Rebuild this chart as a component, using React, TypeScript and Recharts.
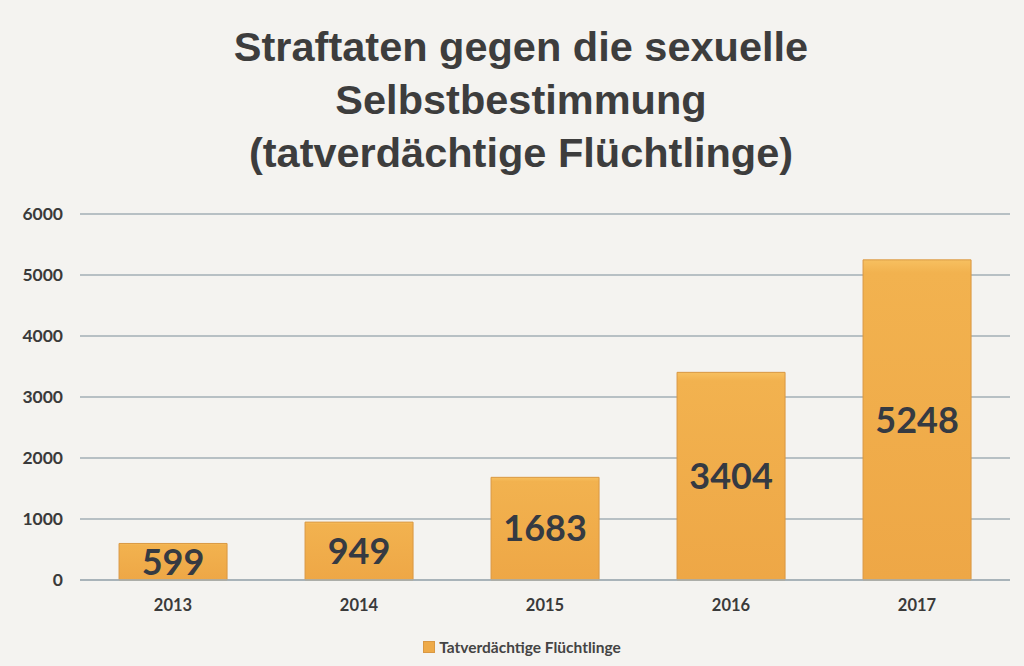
import { Bar, BarChart, CartesianGrid, LabelList, XAxis, YAxis } from "recharts";

const years = ["2013", "2014", "2015", "2016", "2017"];
const suspects = [599, 949, 1683, 3404, 5248];
const yTicks = [0, 1000, 2000, 3000, 4000, 5000, 6000];

const titleLines = [
  "Straftaten gegen die sexuelle",
  "Selbstbestimmung",
  "(tatverdächtige Flüchtlinge)",
];
const seriesName = "Tatverdächtige Flüchtlinge";

const data = years.map((year, i) => ({ year, value: suspects[i] }));

const gridColor = "#a3afb6";
const textColor = "#3a3a3a";

export default function App() {
  return (
    <div
      style={{
        position: "absolute",
        top: 0,
        left: 0,
        width: 1024,
        height: 666,
        background: "#f4f3f0",
        overflow: "hidden",
      }}
    >
      <div
        style={{
          position: "absolute",
          top: 20,
          left: 0,
          width: 1042,
          textAlign: "center",
          fontFamily: "'Liberation Sans', Arial, sans-serif",
          fontWeight: 700,
          fontSize: 41.5,
          lineHeight: "53px",
          color: "#3d3d3d",
        }}
      >
        {titleLines.map((line) => (
          <div key={line}>{line}</div>
        ))}
      </div>

      <BarChart
        width={1024}
        height={666}
        data={data}
        margin={{ top: 214, right: 14, bottom: 56, left: 0 }}
        barCategoryGap="21%"
        style={{ position: "absolute", top: 0, left: 0 }}
      >
        <defs>
          <linearGradient id="barFill" x1="0" y1="0" x2="0" y2="1">
            <stop offset="0%" stopColor="#f7c060" />
            <stop offset="4%" stopColor="#f2b24f" />
            <stop offset="100%" stopColor="#eea746" />
          </linearGradient>
        </defs>
        <CartesianGrid stroke={gridColor} strokeWidth={1.5} vertical={false} />
        <XAxis
          dataKey="year"
          height={30}
          axisLine={{ stroke: gridColor, strokeWidth: 1.5 }}
          tickLine={false}
          tickSize={0}
          tickMargin={19}
          tick={{ fill: textColor, fontSize: 16.5, fontWeight: 700, fontFamily: "Lato, sans-serif" }}
        />
        <YAxis
          width={80}
          domain={[0, 6000]}
          ticks={yTicks}
          axisLine={false}
          tickLine={false}
          tickSize={6}
          tickMargin={11}
          tick={{ fill: textColor, fontSize: 17.5, fontWeight: 700, fontFamily: "Lato, sans-serif" }}
        />
        <Bar
          dataKey="value"
          name={seriesName}
          fill="url(#barFill)"
          stroke="#d99843"
          strokeWidth={1}
          isAnimationActive={false}
        >
          <LabelList
            dataKey="value"
            position="center"
            fill="#353a42"
            fontSize={36}
            fontWeight={700}
            fontFamily="Lato, sans-serif"
          />
        </Bar>
      </BarChart>

      <div
        style={{
          position: "absolute",
          top: 638,
          left: 0,
          width: 1044,
          display: "flex",
          justifyContent: "center",
          alignItems: "center",
          gap: 4,
          fontFamily: "Lato, sans-serif",
          fontWeight: 700,
          fontSize: 15.5,
          color: "#444",
        }}
      >
        <span
          style={{
            display: "inline-block",
            width: 10,
            height: 10,
            background: "#eeaa48",
            border: "1px solid #d99843",
          }}
        />
        <span>{seriesName}</span>
      </div>
    </div>
  );
}
